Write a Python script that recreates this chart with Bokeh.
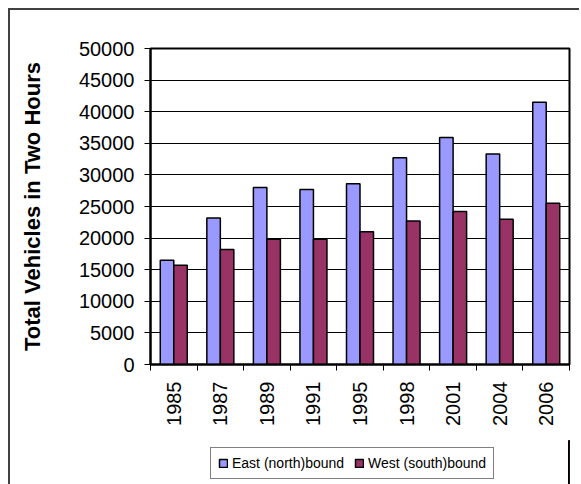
import math
import numpy as np
from bokeh.plotting import figure
from bokeh.layouts import column
from bokeh.models import Range1d, FixedTicker, Legend, LegendItem, ColumnDataSource
from bokeh.transform import dodge
from bokeh.embed import file_html
from bokeh.resources import INLINE

years = ["1985", "1987", "1989", "1991", "1995", "1998", "2001", "2004", "2006"]
east = [16500, 23200, 28000, 27700, 28600, 32700, 35900, 33300, 41500]
west = [15700, 18200, 19800, 19800, 21000, 22700, 24200, 23000, 25500]
y_ticks = [0, 5000, 10000, 15000, 20000, 25000, 30000, 35000, 40000, 45000, 50000]
series_names = ["East (north)bound", "West (south)bound"]
y_title = "Total Vehicles in Two Hours"
colors = ["#9999FF", "#993366"]

FONT = "Liberation Sans"

x = [i + 0.5 for i in range(len(years))]
source = ColumnDataSource(dict(x=x, east=east, west=west))

# main chart
p = figure(width=569, height=430,
           x_range=Range1d(0, len(years)), y_range=Range1d(0, y_ticks[-1]),
           output_backend="svg", toolbar_location=None,
           min_border_left=140, min_border_right=10,
           min_border_top=38, min_border_bottom=76)
p.background_fill_color = "white"
p.border_fill_color = "white"
p.outline_line_color = "black"
p.outline_line_width = 2

r1 = p.vbar(x=dodge("x", -0.145), top="east", bottom=0, width=0.29, source=source,
            fill_color=colors[0], line_color="black", line_width=1.5)
r2 = p.vbar(x=dodge("x", 0.145), top="west", bottom=0, width=0.29, source=source,
            fill_color=colors[1], line_color="black", line_width=1.5)

p.xgrid.grid_line_color = None
p.ygrid.ticker = FixedTicker(ticks=y_ticks)
p.ygrid.grid_line_color = "black"
p.ygrid.grid_line_width = 1

yax = p.yaxis[0]
yax.ticker = FixedTicker(ticks=y_ticks)
yax.major_label_text_font = FONT
yax.major_label_text_font_size = "20px"
yax.major_label_text_color = "black"
yax.major_tick_out = 6
yax.major_tick_in = 0
yax.major_tick_line_color = "black"
yax.minor_tick_line_color = None
yax.axis_line_color = "black"
yax.axis_line_width = 2
yax.major_label_standoff = 10
yax.axis_label = y_title
yax.axis_label_text_font = FONT
yax.axis_label_text_font_size = "22px"
yax.axis_label_text_font_style = "bold"
yax.axis_label_text_color = "black"
yax.axis_label_standoff = 31

xax = p.xaxis[0]
xax.ticker = FixedTicker(ticks=x, minor_ticks=list(range(len(years) + 1)))
xax.major_label_overrides = {xi: yr for xi, yr in zip(x, years)}
xax.major_label_orientation = math.pi / 2
xax.major_label_text_font = FONT
xax.major_label_text_font_size = "20px"
xax.major_label_text_color = "black"
xax.major_tick_out = 0
xax.major_tick_in = 0
xax.minor_tick_out = 6
xax.minor_tick_in = 0
xax.minor_tick_line_color = "black"
xax.axis_line_color = "black"
xax.axis_line_width = 2
xax.major_label_standoff = 11

# legend strip below the chart (its frame is aligned with the chart frame)
lg = figure(width=569, height=44, x_range=Range1d(-3, -2), y_range=Range1d(0, 1),
            output_backend="svg", toolbar_location=None,
            x_axis_location=None, y_axis_location=None,
            min_border_left=0, min_border_right=0, min_border_top=0, min_border_bottom=0)
lg.grid.visible = False
lg.outline_line_color = None
lg.background_fill_color = "white"
lg.border_fill_color = "white"
k1 = lg.vbar(x="x", top="east", bottom=0, width=0.29, source=source,
             fill_color=colors[0], line_color="black", line_width=1.5)
k2 = lg.vbar(x="x", top="west", bottom=0, width=0.29, source=source,
             fill_color=colors[1], line_color="black", line_width=1.5)

legend = Legend(items=[LegendItem(label=series_names[0], renderers=[k1]),
                       LegendItem(label=series_names[1], renderers=[k2])],
                location=(60, 5), orientation="horizontal")
legend.label_text_font = FONT
legend.label_text_font_size = "14px"
legend.label_text_color = "black"
legend.glyph_width = 10
legend.glyph_height = 10
legend.label_standoff = 4
legend.spacing = 10
legend.padding = 7
legend.margin = 0
legend.border_line_color = "black"
legend.border_line_width = 1
legend.background_fill_color = "white"
legend.background_fill_alpha = 1
lg.add_layout(legend)

layout = column(p, lg, spacing=0)
layout.styles = {"margin-left": "8px", "margin-top": "8px",
                 "border-left": "2px solid #404040", "border-top": "2px solid #404040"}

open("out.html", "w").write(file_html(layout, INLINE))
